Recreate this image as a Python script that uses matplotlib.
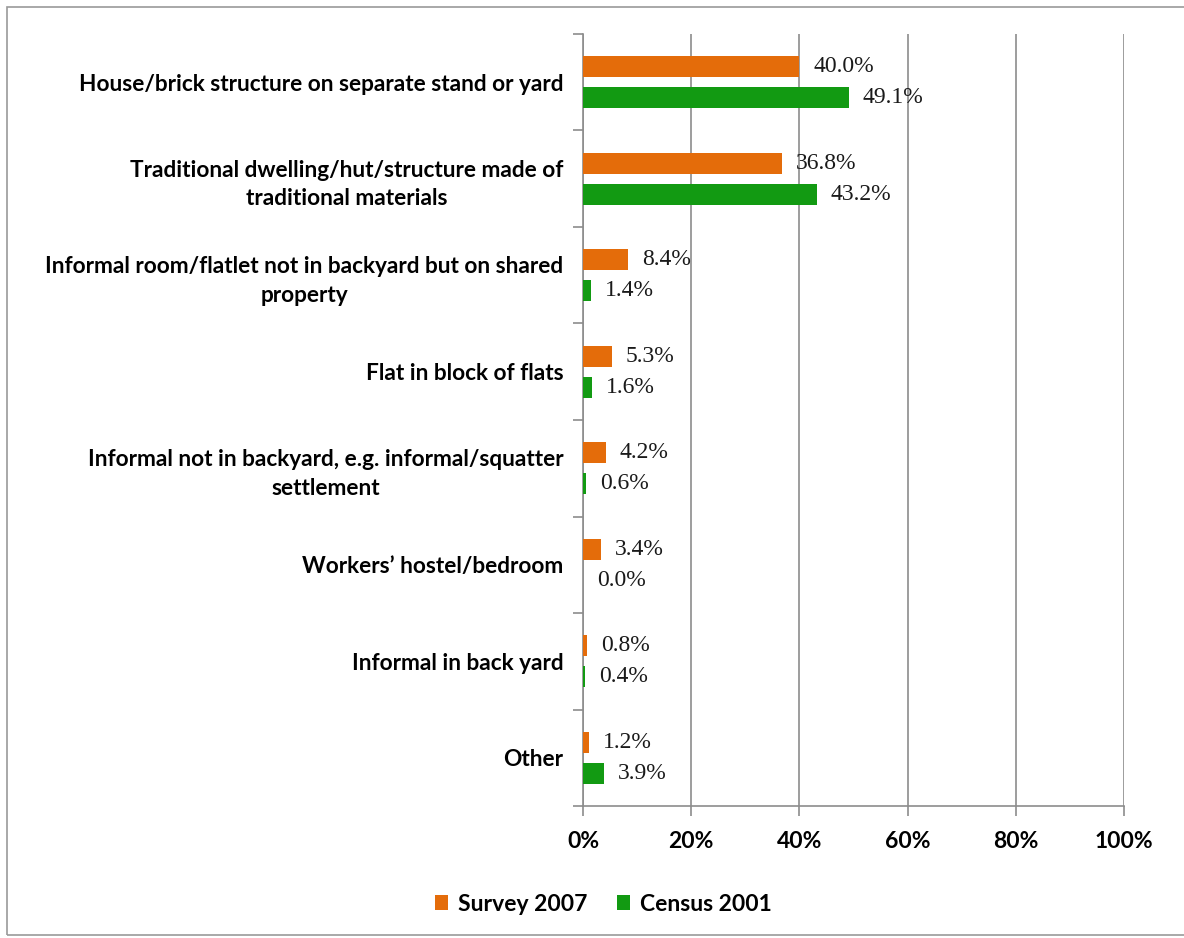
import numpy as np
import matplotlib.pyplot as plt
from matplotlib.patches import Rectangle

# Dwelling types, top to bottom
categories = [
    "House/brick structure on separate stand or yard",
    "Traditional dwelling/hut/structure made of\ntraditional materials",
    "Informal room/flatlet not in backyard but on shared\nproperty",
    "Flat in block of flats",
    "Informal not in backyard, e.g. informal/squatter\nsettlement",
    "Workers\u2019 hostel/bedroom",
    "Informal in back yard",
    "Other",
]
survey_2007 = [40.0, 36.8, 8.4, 5.3, 4.2, 3.4, 0.8, 1.2]
census_2001 = [49.1, 43.2, 1.4, 1.6, 0.6, 0.0, 0.4, 3.9]
x_ticks = [0, 20, 40, 60, 80, 100]

ORANGE = "#E46C0A"
GREEN = "#129A12"
GRID = "#8C8C8C"
LABEL_FONT = "Lato"
VALUE_FONT = "Liberation Serif"

fig = plt.figure(figsize=(11.84, 9.38), dpi=100)
ax = fig.add_axes([583 / 1184, 1 - 806 / 938, (1124 - 583) / 1184, (806 - 34) / 938])

# outer chart frame
fig.patches.append(Rectangle((7 / 1184, 3 / 938), 1.2, 1 - 10 / 938,
                             transform=fig.transFigure, fill=False,
                             edgecolor="#9A9A9A", linewidth=1.2))

n = len(categories)
y = np.arange(n)
bar_h = 0.22
off = 0.16

ax.barh(y - off, survey_2007, height=bar_h, color=ORANGE, label="Survey 2007", zorder=3)
ax.barh(y + off, census_2001, height=bar_h, color=GREEN, label="Census 2001", zorder=3)

for yi, v in zip(y, survey_2007):
    ax.annotate(f"{v:.1f}%", (v, yi - off), xytext=(10, 0), textcoords="offset points",
                ha="left", va="center", fontsize=17, family=VALUE_FONT, color="#1A1A1A")
for yi, v in zip(y, census_2001):
    ax.annotate(f"{v:.1f}%", (v, yi + off), xytext=(10, 0), textcoords="offset points",
                ha="left", va="center", fontsize=17, family=VALUE_FONT, color="#1A1A1A")

ax.set_xlim(0, 100)
ax.set_ylim(n - 0.5, -0.5)

ax.set_xticks(x_ticks)
ax.set_xticklabels([f"{t}%" for t in x_ticks], fontsize=16.5, fontweight="bold",
                   family=LABEL_FONT)
ax.set_yticks(y)
ax.set_yticklabels(categories, fontsize=16.3, fontweight="bold", family=LABEL_FONT,
                   multialignment="center", linespacing=1.45)
ax.set_yticks(np.arange(n + 1) - 0.5, minor=True)

ax.tick_params(axis="y", which="major", length=0, pad=14)
ax.tick_params(axis="y", which="minor", length=7, color=GRID, width=1.2)
ax.tick_params(axis="x", length=7, color=GRID, width=1.2, pad=11)

ax.grid(axis="x", color=GRID, linewidth=1.2, zorder=0)
for side in ("top", "right"):
    ax.spines[side].set_visible(False)
for side in ("left", "bottom"):
    ax.spines[side].set_color(GRID)
    ax.spines[side].set_linewidth(1.2)

ax.legend(loc="center", bbox_to_anchor=(603 / 1184, 1 - 904 / 938),
          bbox_transform=fig.transFigure, ncol=2, frameon=False,
          prop={"family": LABEL_FONT, "weight": "bold", "size": 16.5},
          handlelength=0.6, handleheight=0.6, handletextpad=0.4, columnspacing=1.3)

fig.savefig("out.png", dpi=100)
